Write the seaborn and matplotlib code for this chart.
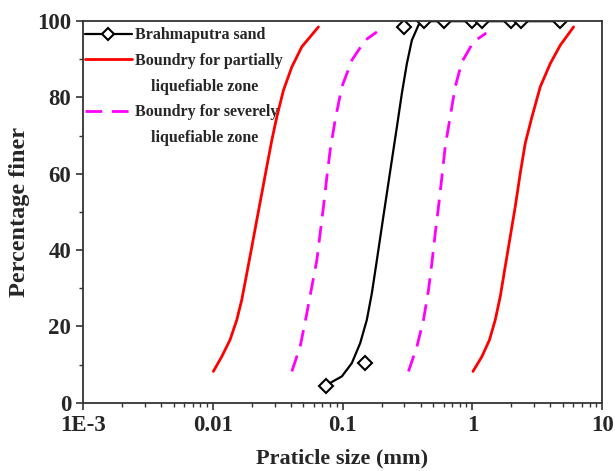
import numpy as np
import pandas as pd
import seaborn as sns
import matplotlib.pyplot as plt
from matplotlib.lines import Line2D
from matplotlib.ticker import LogLocator, FixedLocator, FuncFormatter, MultipleLocator

# measured sieve data, Brahmaputra sand
sand_size = [0.075, 0.15, 0.30, 0.425, 0.60, 1.0, 1.18, 2.0, 2.36, 4.75]
sand_finer = [4.5, 10.5, 98.5, 100, 100, 100, 100, 100, 100, 100]

# gradation curve drawn through the sand data
fit_size = [0.0757, 0.0988, 0.118, 0.1367, 0.1538, 0.1682, 0.1839, 0.2009, 0.2195,
            0.2399, 0.2623, 0.2865, 0.3131, 0.342, 0.385, 0.425, 4.75]
fit_finer = [4.7, 6.9, 10.4, 15.6, 21.7, 28.7, 37.4, 46.2, 54.9,
             63.6, 72.3, 81.1, 88.9, 95.0, 99.0, 100, 100]

# boundaries for partially liquefiable zone (red)
part_lo_size = [0.0101, 0.01173, 0.01359, 0.01531, 0.01673, 0.01829, 0.0200, 0.02184,
                0.02387, 0.02608, 0.0285, 0.03114, 0.03504, 0.04064, 0.04855, 0.06518]
part_lo_finer = [8.2, 12.1, 16.5, 21.7, 27.0, 33.9, 40.9, 47.9,
                 54.9, 61.9, 68.8, 74.9, 81.9, 88.0, 93.3, 98.5]
part_hi_size = [1.011, 1.186, 1.357, 1.502, 1.641, 1.793, 1.959, 2.142,
                2.34, 2.557, 2.88, 3.339, 3.988, 4.762, 6.03]
part_hi_finer = [8.2, 12.1, 16.5, 21.7, 27.8, 35.7, 43.5, 51.4,
                 60.1, 68.0, 74.9, 82.8, 88.9, 93.7, 98.5]

# boundaries for severely liquefiable zone (magenta)
sev_lo_size = [0.04064, 0.04713, 0.0531, 0.05796, 0.0634, 0.0672, 0.0713, 0.0757,
               0.0803, 0.0877, 0.0988, 0.118, 0.1494, 0.1839]
sev_lo_finer = [8.2, 14.7, 23.5, 30.4, 37.4, 44.4, 51.4, 59.2,
                66.2, 74.1, 82.8, 89.8, 95.0, 97.2]
sev_hi_size = [0.322, 0.374, 0.4206, 0.4597, 0.4879, 0.5176, 0.549, 0.583,
               0.618, 0.675, 0.738, 0.831, 1.021, 1.28]
sev_hi_finer = [8.2, 14.7, 21.7, 29.6, 36.6, 44.4, 51.4, 59.2,
                67.1, 74.9, 82.8, 89.3, 94.6, 96.9]

x_ticks = [1e-3, 0.01, 0.1, 1, 10]
x_tick_labels = ["1E-3", "0.01", "0.1", "1", "10"]

sns.set_style("ticks")
plt.rcParams['font.family'] = ['Liberation Serif', 'DejaVu Serif']
plt.rcParams['font.weight'] = 'bold'

fig = plt.figure(figsize=(6.15, 4.71), dpi=100)
ax = fig.add_axes([0.135, 0.145, 0.844, 0.810])

dash = (0, (6, 3.5))
sns.lineplot(x=part_lo_size, y=part_lo_finer, color='#ff0000', lw=2, estimator=None, sort=False, ax=ax)
sns.lineplot(x=part_hi_size, y=part_hi_finer, color='#ff0000', lw=2, estimator=None, sort=False, ax=ax)
sns.lineplot(x=sev_lo_size, y=sev_lo_finer, color='#ff00ff', lw=2, estimator=None, sort=False, ax=ax, linestyle=dash)
sns.lineplot(x=sev_hi_size, y=sev_hi_finer, color='#ff00ff', lw=2, estimator=None, sort=False, ax=ax, linestyle=dash)
sns.lineplot(x=fit_size, y=fit_finer, color='black', lw=1.6, estimator=None, sort=False, ax=ax)
# data points as markers only, clipped at the frame like the original
sns.lineplot(x=sand_size, y=sand_finer, estimator=None, sort=False, ax=ax, linestyle='none',
             marker='D', markersize=6.8, markerfacecolor='white', markeredgecolor='black',
             markeredgewidth=1.5, color='black', zorder=5)

ax.set_xscale('log')
ax.set_xlim(1e-3, 10)
ax.set_ylim(0, 100)
ax.xaxis.set_major_locator(FixedLocator(x_ticks))
ax.xaxis.set_major_formatter(FuncFormatter(lambda v, p: x_tick_labels[x_ticks.index(v)] if v in x_ticks else ""))
ax.xaxis.set_minor_locator(LogLocator(base=10, subs=np.arange(2, 10)))
ax.yaxis.set_major_locator(MultipleLocator(20))
ax.yaxis.set_minor_locator(MultipleLocator(10))

for s in ax.spines.values():
    s.set_linewidth(1.3)
    s.set_color('#333333')
    s.set_zorder(6)
ax.tick_params(which='major', direction='out', length=5, width=1.2, labelsize=16.5, color='#333333')
ax.tick_params(which='minor', direction='out', length=3, width=1.0, color='#333333')
for lab in ax.get_xticklabels() + ax.get_yticklabels():
    lab.set_fontweight('bold')

ax.set_xlabel("Praticle size (mm)", fontsize=16, fontweight='bold', labelpad=9)
ax.set_ylabel("Percentage finer", fontsize=17.5, fontweight='bold', labelpad=5)

blank = Line2D([], [], color='none')
handles = [
    Line2D([], [], color='black', lw=1.6, marker='D', markersize=6.5,
           markerfacecolor='white', markeredgecolor='black', markeredgewidth=1.5),
    Line2D([], [], color='#ff0000', lw=2),
    blank,
    Line2D([], [], color='#ff00ff', lw=2, linestyle=dash),
    blank,
]
labels = ["Brahmaputra sand", "Boundry for partially", "    liquefiable zone",
          "Boundry for severely", "    liquefiable zone"]
ax.legend(handles, labels, loc='upper left', bbox_to_anchor=(-0.002, 0.992), frameon=False,
          prop={'family': 'Liberation Serif', 'weight': 'bold', 'size': 11.5},
          handlelength=2.9, handletextpad=0.2, labelspacing=0.6, borderpad=0.2, borderaxespad=0)

fig.savefig("out.png", dpi=100)
